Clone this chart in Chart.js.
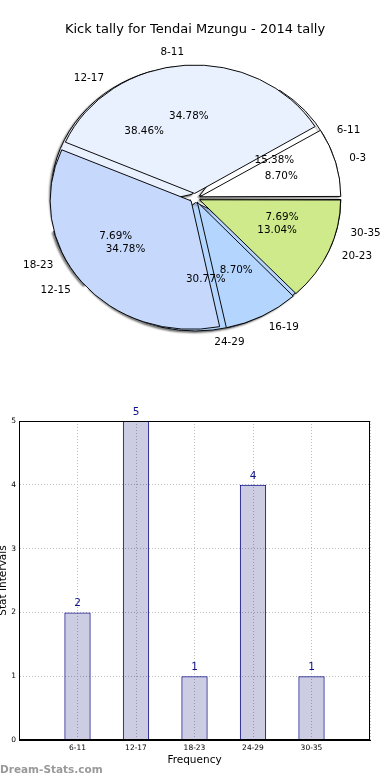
<!DOCTYPE html>
<html><head><meta charset="utf-8">
<script src="https://cdn.jsdelivr.net/npm/chart.js@4/dist/chart.umd.min.js"></script>
<style>
html,body{margin:0;padding:0;background:#fff;}
#wrap{position:relative;width:390px;height:780px;overflow:hidden;background:#fff;}
canvas{position:absolute;left:0;}
#wm{position:absolute;left:0;top:764px;font:bold 10.5px "DejaVu Sans";line-height:1;color:#999;}
</style></head><body>
<div id="wrap">
<canvas id="pieUnder" width="390" height="400" style="top:0"></canvas>
<canvas id="pieTop" width="390" height="400" style="top:0"></canvas>
<canvas id="bar" width="390" height="380" style="top:400px"></canvas>
<div id="wm">Dream-Stats.com</div>
</div>
<script>
// ---- data ----
const titleText = 'Kick tally for Tendai Mzungu - 2014 tally';
const statCategories = ['6-11', '12-17', '18-23', '24-29', '30-35'];
const statCounts = [2, 5, 1, 4, 1];
const kickCategories = ['0-3', '8-11', '12-15', '16-19', '20-23'];
const kickCounts = [2, 8, 8, 2, 3];
const sliceColors = ['#ffffff', '#eaf1fe', '#c6d9fd', '#b4d5fe', '#cfea8b'];
const xAxisTitle = 'Frequency';
const yAxisTitle = 'Stat Intervals';

// ---- pie styling ----
const KY = 0.911;      // vertical squash of the pie (elliptical)
const D = 5;           // explode distance (px)
const R = 141;         // pie radius (px)
const FONT = '"DejaVu Sans"';

const ellipse = {
  id: 'ellipse',
  beforeDatasetsDraw(chart, args, opts) {
    const ctx = chart.ctx, a = chart.chartArea;
    const cx = (a.left + a.right) / 2, cy = (a.top + a.bottom) / 2;
    // keep exploded slices at the same radius (Chart.js enlarges small exploded slices)
    chart.getDatasetMeta(0).data.forEach(arc => {
      const fix = 1 - Math.sin(Math.min(Math.PI, arc.circumference));
      arc.outerRadius = R - (arc.options.offset / 4) * fix;
    });
    ctx.save();
    ctx.translate(cx, cy); ctx.scale(1, KY); ctx.translate(-cx, -cy);
    if (opts && opts.shadow) {
      ctx.shadowColor = 'rgba(0,0,0,0.5)';
      ctx.shadowOffsetX = -1.5; ctx.shadowOffsetY = 1.5; ctx.shadowBlur = 2;
    }
  },
  afterDatasetsDraw(chart) { chart.ctx.restore(); }
};

function pieConfig(labels, counts, extra) {
  return {
    type: 'pie',
    data: {
      labels: labels.slice().reverse(),
      datasets: [{
        data: counts.slice().reverse(),
        backgroundColor: sliceColors.slice().reverse(),
        borderColor: '#000', borderWidth: 1,
        offset: 4 * D
      }]
    },
    options: Object.assign({
      responsive: false, animation: false, events: [],
      rotation: 90, radius: R
    }, extra.options),
    plugins: extra.plugins
  };
}

const underChart = new Chart(document.getElementById('pieUnder'), pieConfig(statCategories, statCounts, {
  options: {
    layout: { padding: { top: 47.6, bottom: 51.6 } },
    plugins: { legend: { display: false }, tooltip: { enabled: false }, ellipse: { shadow: true } }
  },
  plugins: [ellipse]
}));

const pieLabels = {
  id: 'pieLabels',
  afterDraw(chart) {
    const ctx = chart.ctx;
    ctx.save();
    ctx.font = '10.4px ' + FONT; ctx.fillStyle = '#000'; ctx.textBaseline = 'middle';
    [underChart, chart].forEach(c => {
      const meta = c.getDatasetMeta(0);
      const labels = c.data.labels, data = c.data.datasets[0].data;
      const total = data.reduce((s, v) => s + v, 0);
      meta.data.forEach((arc, i) => {
        const mid = (arc.startAngle + arc.endAngle) / 2;
        const cs = Math.cos(mid), sn = Math.sin(mid);
        ctx.textAlign = cs > 0 ? 'left' : 'right';
        ctx.fillText(labels[i], arc.x + cs * (1.1 * R + D), arc.y + sn * (1.1 * R + D) * KY);
        ctx.textAlign = 'center';
        ctx.fillText((data[i] / total * 100).toFixed(2) + '%', arc.x + cs * (0.6 * R + D), arc.y + sn * (0.6 * R + D) * KY);
      });
    });
    ctx.restore();
  }
};

new Chart(document.getElementById('pieTop'), pieConfig(kickCategories, kickCounts, {
  options: {
    layout: { padding: { bottom: 51.6 } },
    plugins: {
      legend: { display: false }, tooltip: { enabled: false },
      title: { display: true, text: titleText, color: '#000', font: { family: FONT, size: 13, weight: 'normal' }, padding: { top: 22, bottom: 10 } },
      ellipse: { shadow: false }
    }
  },
  plugins: [ellipse, pieLabels]
}));

// ---- bar chart ----
const frame = {
  id: 'frame',
  afterDatasetsDraw(chart) {
    const ctx = chart.ctx, a = chart.chartArea;
    ctx.save();
    ctx.strokeStyle = '#000'; ctx.lineWidth = 1;
    ctx.strokeRect(Math.round(a.left) + 0.5, Math.round(a.top) + 0.5, Math.round(a.right - a.left) - 1, Math.round(a.bottom - a.top) - 1);
    ctx.restore();
  }
};
const valueLabels = {
  id: 'valueLabels',
  afterDatasetsDraw(chart) {
    const ctx = chart.ctx, meta = chart.getDatasetMeta(0);
    ctx.save();
    ctx.font = '10.5px ' + FONT; ctx.fillStyle = '#11118a';
    ctx.textAlign = 'center'; ctx.textBaseline = 'alphabetic';
    meta.data.forEach((b, i) => ctx.fillText(String(statCounts[i]), b.x, b.y - 6));
    ctx.restore();
  }
};

new Chart(document.getElementById('bar'), {
  type: 'bar',
  data: {
    datasets: [{
      data: statCounts.map((v, i) => ({ x: i, y: v })),
      backgroundColor: 'rgba(0,0,110,0.2)', borderColor: '#11118a', borderWidth: 1,
      barPercentage: 0.45, categoryPercentage: 1
    }]
  },
  options: {
    responsive: false, animation: false, events: [],
    layout: { padding: { top: 21, right: 20, left: 0, bottom: 0 } },
    scales: {
      x: {
        type: 'linear', min: -1, max: 5, offset: false,
        ticks: { stepSize: 1, autoSkip: false, maxRotation: 0, padding: 4, color: '#000',
          font: { family: FONT, size: 7.5 }, callback: v => statCategories[v] ?? '' },
        grid: { color: '#bdbdbd', drawTicks: false, offset: false },
        border: { color: '#000', dash: [1, 2] },
        title: { display: true, text: xAxisTitle, color: '#000', font: { family: FONT, size: 10.5, lineHeight: 1 }, padding: { top: 0, bottom: 14.75 } },
        afterFit: s => { s.height = 40; }
      },
      y: {
        min: 0, max: 5,
        ticks: { stepSize: 1, padding: 3, color: '#000', font: { family: FONT, size: 7.5 } },
        grid: { color: '#bdbdbd', drawTicks: false },
        border: { color: '#000', dash: [1, 2] },
        title: { display: true, text: yAxisTitle, color: '#000', font: { family: FONT, size: 10.5, lineHeight: 1 }, padding: { top: -2, bottom: 0 } },
        afterFit: s => { s.width = 19; }
      }
    },
    plugins: { legend: { display: false }, tooltip: { enabled: false } }
  },
  plugins: [frame, valueLabels]
});
</script>
</body></html>
